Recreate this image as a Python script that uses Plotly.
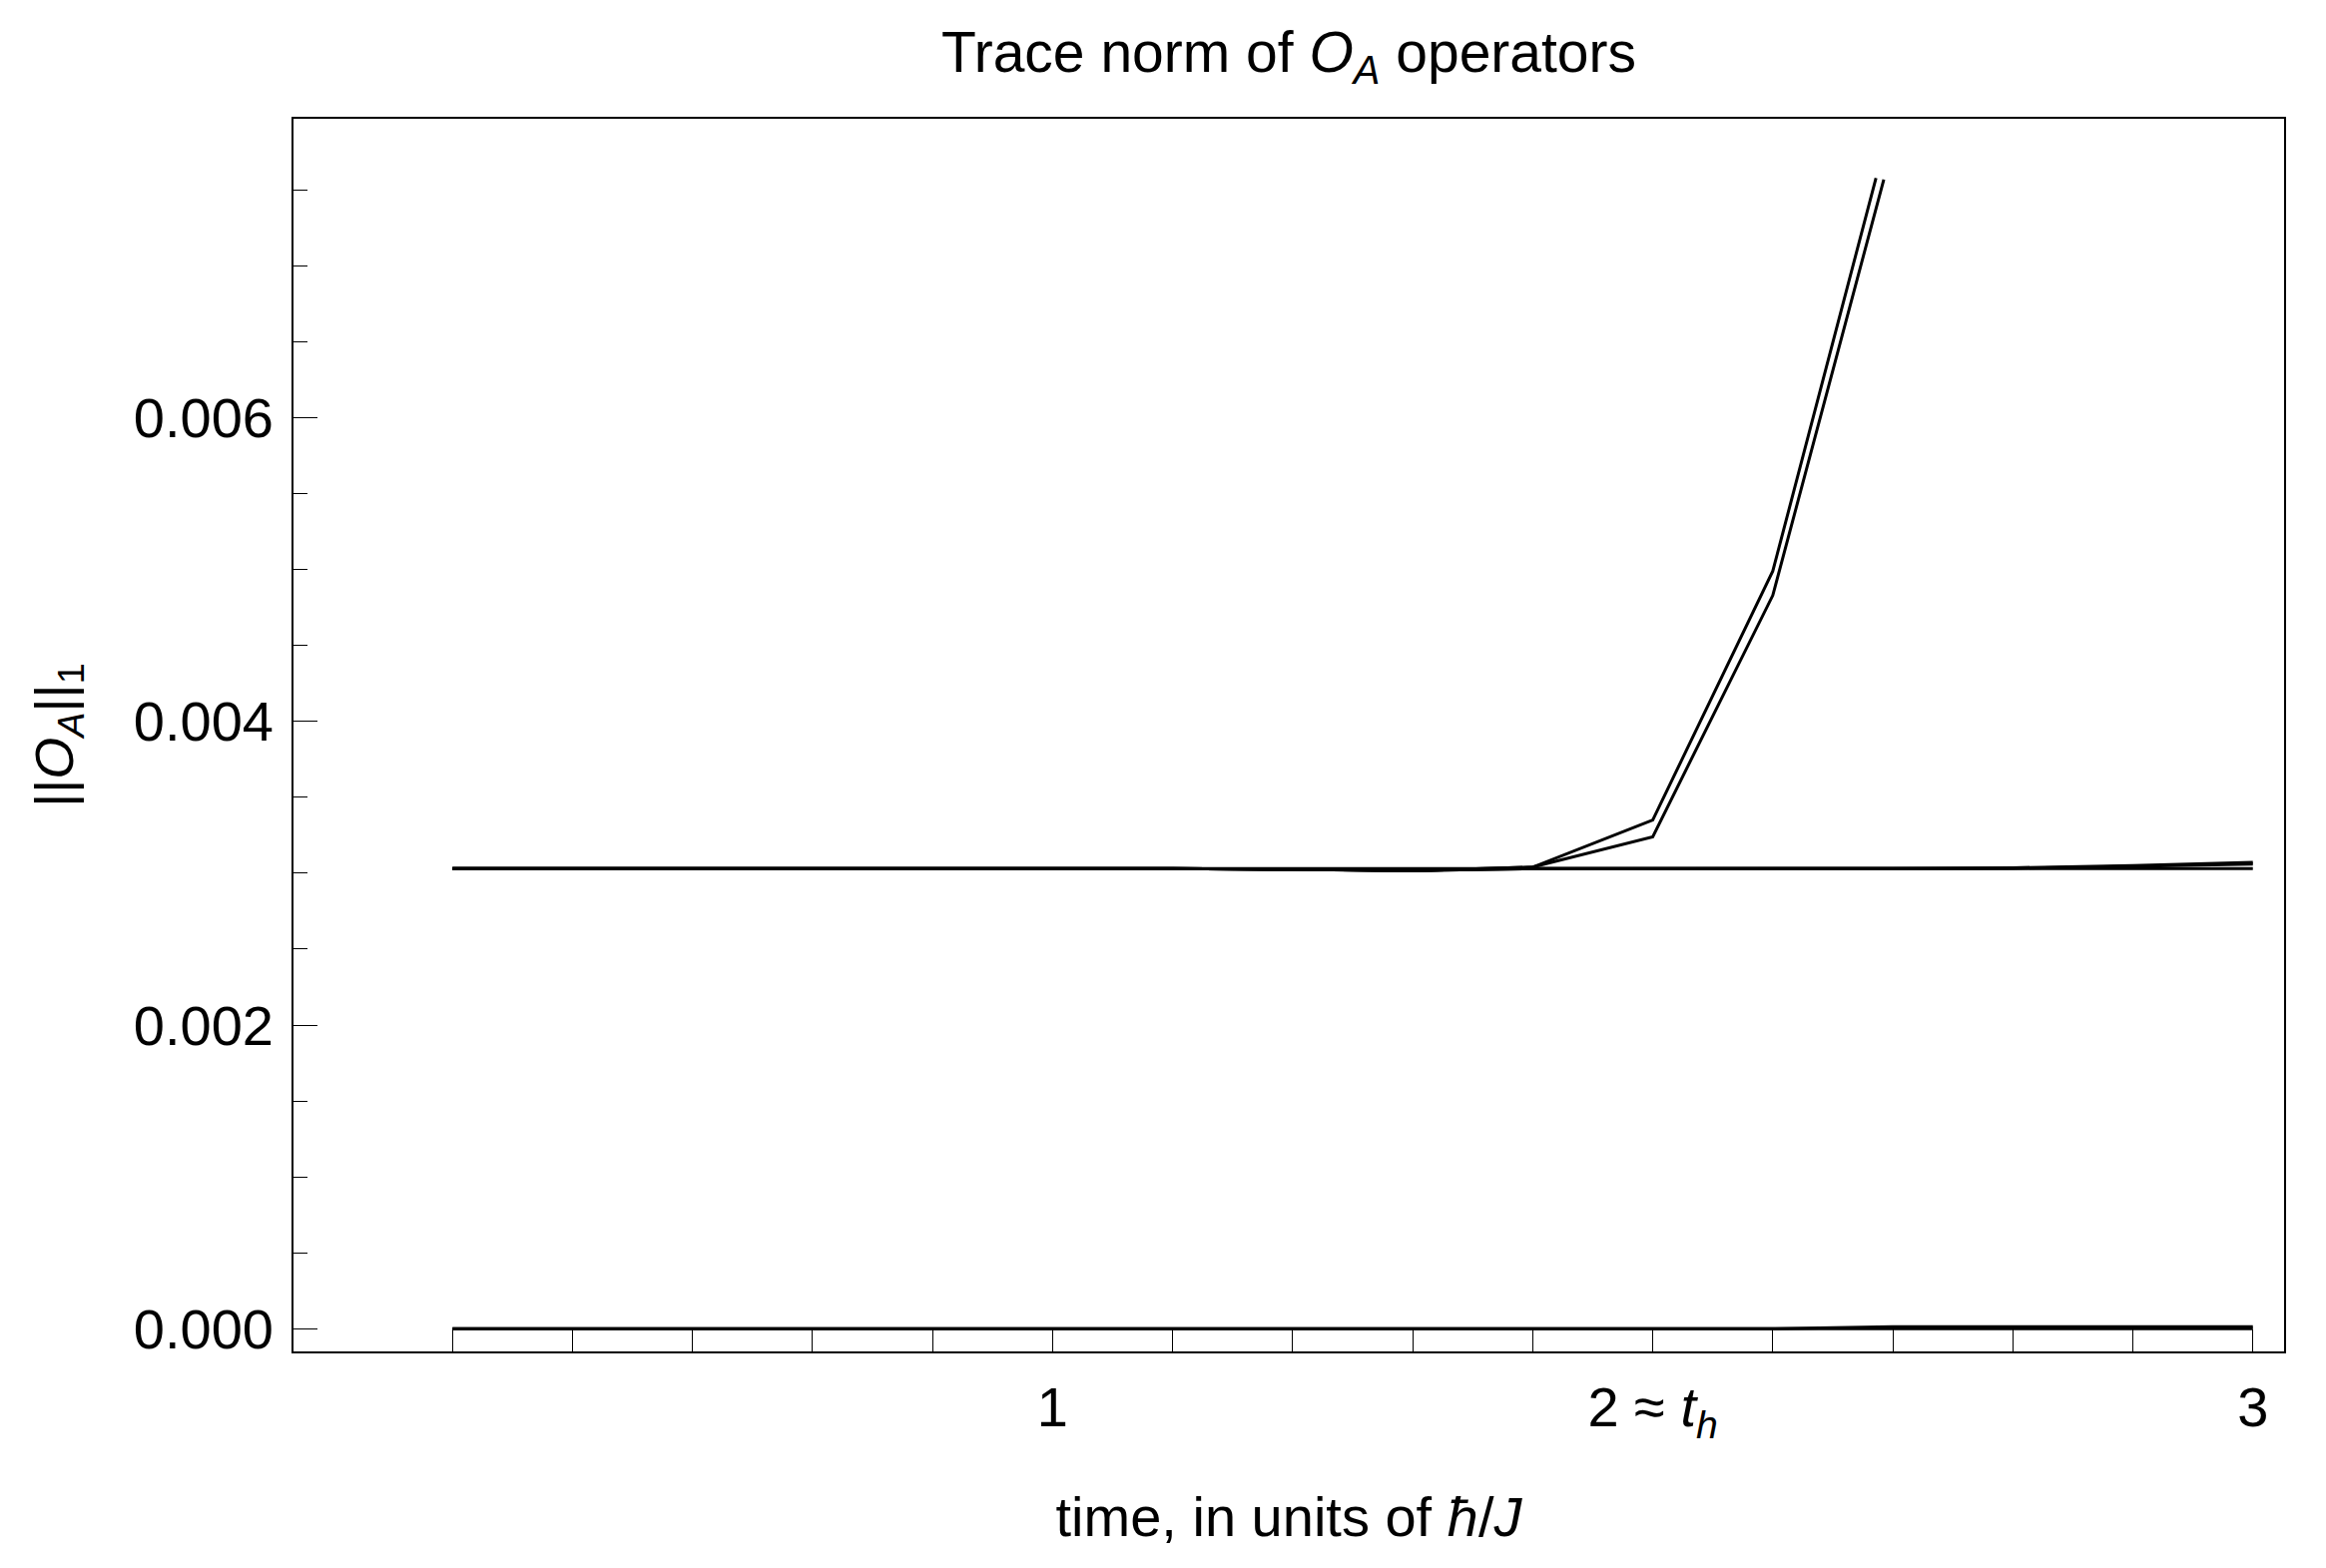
import plotly.graph_objects as go

# time grid, in units of hbar/J
time = [0.0, 0.2, 0.4, 0.6, 0.8, 1.0, 1.2, 1.4, 1.6, 1.8, 2.0, 2.2, 2.4, 2.6, 2.8, 3.0]

# trace norms that stay close to 0.00303
norm_flat = [0.00303, 0.00303, 0.00303, 0.00303, 0.00303, 0.00303, 0.00303, 0.00303,
             0.00303, 0.00303, 0.00303, 0.00303, 0.00303, 0.00303, 0.00303, 0.00303]
norm_slow_a = [0.00303, 0.00303, 0.00303, 0.00303, 0.00303, 0.00303, 0.00303, 0.003025,
               0.003018, 0.00303, 0.00303, 0.00303, 0.00303, 0.003036, 0.00305, 0.003072]
norm_slow_b = [0.00303, 0.00303, 0.00303, 0.00303, 0.00303, 0.00303, 0.00303, 0.003025,
               0.003018, 0.00303, 0.00303, 0.00303, 0.00303, 0.003033, 0.003045, 0.00306]

# the two norms that blow up after t_h (cut off at the top of the plot range)
time_fast_a = [0.0, 0.2, 0.4, 0.6, 0.8, 1.0, 1.2, 1.4, 1.6, 1.8, 2.0, 2.2, 2.372]
norm_fast_a = [0.00303, 0.00303, 0.00303, 0.00303, 0.00303, 0.00303, 0.00303, 0.003025,
               0.003015, 0.00304, 0.00335, 0.00499, 0.00758]
time_fast_b = [0.0, 0.2, 0.4, 0.6, 0.8, 1.0, 1.2, 1.4, 1.6, 1.8, 2.0, 2.2, 2.385]
norm_fast_b = [0.00303, 0.00303, 0.00303, 0.00303, 0.00303, 0.00303, 0.00303, 0.003025,
               0.003015, 0.00304, 0.00324, 0.00483, 0.00757]

# trace norms that stay near zero
norm_zero = [0.0, 0.0, 0.0, 0.0, 0.0, 0.0, 0.0, 0.0, 0.0, 0.0, 0.0, 0.0, 0.0, 0.0, 0.0, 0.0]
norm_small = [0.0, 0.0, 0.0, 0.0, 0.0, 0.0, 0.0, 0.0, 0.0, 0.0, 0.0, 0.0, 0.000012,
              0.000012, 0.000013, 0.000013]

# axis ticks
x_ticks = [0.0, 0.2, 0.4, 0.6, 0.8, 1.0, 1.2, 1.4, 1.6, 1.8, 2.0, 2.2, 2.4, 2.6, 2.8, 3.0]
x_labels = ["", "", "", "", "", "1", "", "", "", "", "2 ≈ <i>t</i><sub><i>h</i></sub>",
            "", "", "", "", "3"]
y_ticks = [0.0, 0.002, 0.004, 0.006]

curves = [
    (time, norm_zero),
    (time, norm_small),
    (time, norm_flat),
    (time, norm_slow_a),
    (time, norm_slow_b),
    (time_fast_a, norm_fast_a),
    (time_fast_b, norm_fast_b),
]

fig = go.Figure()
for xs, ys in curves:
    fig.add_trace(
        go.Scatter(x=xs, y=ys, mode="lines", line=dict(color="black", width=3))
    )

fig.update_layout(
    width=2330,
    height=1571,
    margin=dict(l=286, r=50, t=111, b=225),
    paper_bgcolor="white",
    plot_bgcolor="white",
    showlegend=False,
    font=dict(family="Liberation Sans, Arial, sans-serif", size=56, color="black"),
    title=dict(
        text="Trace norm of <i>O</i><sub><i>A</i></sub> operators",
        x=0.5,
        xref="paper",
        xanchor="center",
        y=1 - 44 / 1571,
        yanchor="middle",
        font=dict(size=57),
    ),
)

fig.update_xaxes(
    range=[-0.265, 3.052],
    tickmode="array",
    tickvals=x_ticks,
    ticktext=x_labels,
    ticks="inside",
    ticklen=22,
    tickwidth=1.3,
    tickcolor="black",
    ticklabelstandoff=6,
    showline=True,
    mirror=True,
    linecolor="black",
    linewidth=1.6,
    showgrid=False,
    zeroline=False,
    title=dict(text="time, in units of <i>ħ</i>/<i>J</i>", standoff=52, font=dict(size=56)),
)

fig.update_yaxes(
    range=[-0.00015, 0.00797],
    tickmode="array",
    tickvals=y_ticks,
    tickformat=".3f",
    ticks="inside",
    ticklen=24,
    tickwidth=1.3,
    tickcolor="black",
    ticklabelstandoff=7,
    minor=dict(dtick=0.0005, ticks="inside", ticklen=14, tickwidth=1.3,
               tickcolor="black", showgrid=False),
    showline=True,
    mirror=True,
    linecolor="black",
    linewidth=1.6,
    showgrid=False,
    zeroline=False,
    title=dict(text="||<i>O</i><sub><i>A</i></sub>||<sub>1</sub>", standoff=43,
               font=dict(size=54)),
)

fig.write_html("out.html")
